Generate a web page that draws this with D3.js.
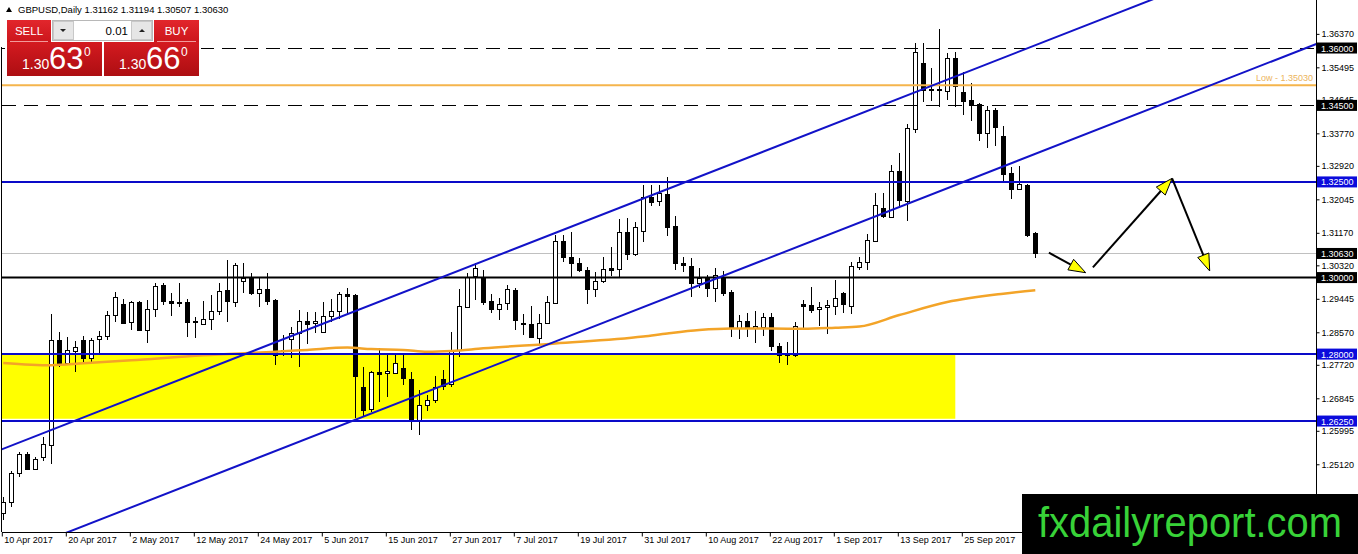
<!DOCTYPE html>
<html>
<head>
<meta charset="utf-8">
<script src="https://cdn.jsdelivr.net/npm/d3@7"></script>
<style>
  body { margin: 0; background: #fff; overflow: hidden; }
  svg { display: block; font-family: "Liberation Sans", Arial, sans-serif; }
</style>
</head>
<body>
<svg id="chart" width="1358" height="554"></svg>
<script>
// GBPUSD daily candles, 10 Apr 2017 - 6 Oct 2017
const opens = [
  1.2384, 1.2412, 1.2488, 1.2538, 1.2500, 1.2531, 1.2564, 1.2838, 1.2776, 1.2809,
  1.2836, 1.2791, 1.2838, 1.2847, 1.2901, 1.2931, 1.2883, 1.2937, 1.2864, 1.2919,
  1.2980, 1.2938, 1.2935, 1.2935, 1.2887, 1.2880, 1.2893, 1.2913, 1.2967, 1.2937,
  1.2991, 1.2999, 1.2959, 1.2970, 1.2941, 1.2809, 1.2838, 1.2856, 1.2887, 1.2880,
  1.2858, 1.2900, 1.2912, 1.2957, 1.2954, 1.2714, 1.2656, 1.2753, 1.2749, 1.2753,
  1.2763, 1.2734, 1.2627, 1.2668, 1.2680, 1.2736, 1.2721, 1.2810, 1.2924, 1.3002,
  1.3002, 1.2938, 1.2917, 1.2932, 1.2967, 1.2880, 1.2878, 1.2841, 1.2880, 1.2934,
  1.3095, 1.3053, 1.3037, 1.3019, 1.2969, 1.2991, 1.3024, 1.3021, 1.3118, 1.3061,
  1.3120, 1.3210, 1.3198, 1.3218, 1.3134, 1.3037, 1.3030, 1.2986, 1.2998, 1.2972,
  1.3002, 1.2961, 1.2869, 1.2887, 1.2869, 1.2869, 1.2896, 1.2821, 1.2802, 1.2797,
  1.2932, 1.2928, 1.2917, 1.2922, 1.2926, 1.2959, 1.2926, 1.3028, 1.3040, 1.3096,
  1.3181, 1.3159, 1.3278, 1.3202, 1.3388, 1.3560, 1.3492, 1.3492, 1.3490, 1.3575,
  1.3486, 1.3464, 1.3454, 1.3379, 1.3438, 1.3370, 1.3273, 1.3231, 1.3242, 1.31162
];
const highs = [
  1.2427, 1.2495, 1.2545, 1.2545, 1.2531, 1.2584, 1.2904, 1.2858, 1.2844, 1.2835,
  1.2847, 1.2841, 1.2861, 1.2913, 1.2963, 1.2945, 1.2939, 1.2939, 1.2941, 1.2985,
  1.2985, 1.2959, 1.2986, 1.2943, 1.2897, 1.2938, 1.2954, 1.2986, 1.3046, 1.3037,
  1.3039, 1.3011, 1.2998, 1.3011, 1.2943, 1.2850, 1.2870, 1.2915, 1.2910, 1.2910,
  1.2937, 1.2945, 1.2963, 1.2974, 1.2956, 1.2767, 1.2756, 1.2815, 1.2797, 1.2797,
  1.2802, 1.2754, 1.2706, 1.2693, 1.2742, 1.2758, 1.2858, 1.2970, 1.3012, 1.3037,
  1.3021, 1.2957, 1.2947, 1.2980, 1.2974, 1.2906, 1.2925, 1.2904, 1.2951, 1.3111,
  1.3111, 1.3120, 1.3050, 1.3027, 1.3015, 1.3054, 1.3079, 1.3152, 1.3155, 1.3146,
  1.3242, 1.3242, 1.3242, 1.3263, 1.3161, 1.3053, 1.3050, 1.3024, 1.3006, 1.3026,
  1.3018, 1.2967, 1.2902, 1.2908, 1.2912, 1.2908, 1.2908, 1.2830, 1.2832, 1.2884,
  1.2941, 1.2976, 1.2937, 1.2941, 1.2993, 1.2963, 1.3041, 1.3054, 1.3113, 1.3222,
  1.3220, 1.3294, 1.3325, 1.3401, 1.3612, 1.3614, 1.3547, 1.3651, 1.3586, 1.3589,
  1.3538, 1.3509, 1.3456, 1.3449, 1.3443, 1.3396, 1.3289, 1.3291, 1.3245, 1.31194
];
const lows = [
  1.2366, 1.2401, 1.2479, 1.2497, 1.2497, 1.2521, 1.2514, 1.2767, 1.2771, 1.2754,
  1.2780, 1.2780, 1.2802, 1.2838, 1.2884, 1.2878, 1.2863, 1.2860, 1.2828, 1.2897,
  1.2928, 1.2900, 1.2924, 1.2845, 1.2841, 1.2876, 1.2863, 1.2902, 1.2884, 1.2924,
  1.2959, 1.2954, 1.2924, 1.2928, 1.2771, 1.2795, 1.2791, 1.2767, 1.2826, 1.2854,
  1.2854, 1.2884, 1.2893, 1.2902, 1.2632, 1.2638, 1.2649, 1.2675, 1.2688, 1.2749,
  1.2719, 1.2601, 1.2588, 1.2652, 1.2673, 1.2706, 1.2714, 1.2793, 1.2922, 1.2941,
  1.2928, 1.2908, 1.2889, 1.2915, 1.2863, 1.2850, 1.2841, 1.2826, 1.2878, 1.2932,
  1.3041, 1.3000, 1.3015, 1.2931, 1.2950, 1.2985, 1.3004, 1.3002, 1.3046, 1.3056,
  1.3094, 1.3187, 1.3187, 1.3108, 1.3021, 1.3015, 1.2950, 1.2972, 1.2948, 1.2937,
  1.2951, 1.2844, 1.2839, 1.2845, 1.2829, 1.2847, 1.2808, 1.2777, 1.2771, 1.2793,
  1.2867, 1.2908, 1.2873, 1.2852, 1.2902, 1.2908, 1.2906, 1.3021, 1.3021, 1.3094,
  1.3157, 1.3157, 1.3181, 1.3148, 1.3377, 1.3459, 1.3461, 1.3446, 1.3464, 1.3445,
  1.3426, 1.3408, 1.3356, 1.3338, 1.3343, 1.3250, 1.3205, 1.3231, 1.3105, 1.30507
];
const closes = [
  1.2414, 1.2488, 1.2538, 1.2499, 1.2525, 1.2564, 1.2838, 1.2776, 1.2810, 1.2819,
  1.2790, 1.2838, 1.2847, 1.2901, 1.2948, 1.2882, 1.2935, 1.2863, 1.2919, 1.2978,
  1.2937, 1.2932, 1.2932, 1.2882, 1.2884, 1.2893, 1.2913, 1.2965, 1.2937, 1.3033,
  1.2998, 1.2959, 1.2970, 1.2939, 1.2797, 1.2810, 1.2854, 1.2887, 1.2880, 1.2886,
  1.2900, 1.2912, 1.2956, 1.2953, 1.2742, 1.2655, 1.2752, 1.2749, 1.2755, 1.2778,
  1.2736, 1.2627, 1.2668, 1.2680, 1.2714, 1.2719, 1.2810, 1.2925, 1.3002, 1.3024,
  1.2937, 1.2917, 1.2930, 1.2969, 1.2889, 1.2877, 1.2844, 1.2880, 1.2935, 1.3095,
  1.3053, 1.3037, 1.3018, 1.2969, 1.2991, 1.3023, 1.3020, 1.3118, 1.3061, 1.3131,
  1.3210, 1.3198, 1.3220, 1.3133, 1.3037, 1.3031, 1.2986, 1.2999, 1.2972, 1.3006,
  1.2960, 1.2869, 1.2887, 1.2869, 1.2873, 1.2896, 1.2819, 1.2797, 1.2797, 1.2874,
  1.2926, 1.2915, 1.2923, 1.2928, 1.2947, 1.2931, 1.3030, 1.3040, 1.3098, 1.3189,
  1.3159, 1.3278, 1.3202, 1.3392, 1.3590, 1.3490, 1.3489, 1.3489, 1.3575, 1.3503,
  1.3462, 1.3451, 1.3379, 1.3438, 1.3393, 1.3271, 1.3231, 1.3245, 1.3111, 1.30630
];

// trading days shown on the chart
const dates = d3.timeDay.range(new Date(2017, 3, 10), new Date(2017, 9, 7))
  .filter(d => d.getDay() % 6 !== 0);

// moving average (orange), read at a few bars
const maBars   = [0, 6, 10, 16, 25, 34, 38, 43, 46, 50, 53, 56, 60, 69, 80, 83, 87, 91, 96, 100, 104, 107, 112, 118, 125, 129];
const maValues = [1.2777, 1.2771, 1.2776, 1.2784, 1.2797, 1.2806, 1.2811, 1.2817, 1.2813, 1.2811, 1.2806, 1.2808, 1.2815,
                  1.2828, 1.2846, 1.2854, 1.2863, 1.2867, 1.2867, 1.2866, 1.2869, 1.2872, 1.2902, 1.2936, 1.2958, 1.2967];

const priceTicks = [1.36370, 1.35495, 1.34645, 1.33770, 1.32920, 1.32045, 1.31170, 1.30320,
                    1.29445, 1.28570, 1.27720, 1.26845, 1.25995, 1.25120, 1.24245];

const dashedLevels = [1.3600, 1.3450];
const blueLevels = [1.3250, 1.2800, 1.2625];
const supportLevel = 1.3000;
const lowLevel = 1.35030;
const bid = 1.30630, ask = 1.30660, lot = "0.01";

// yellow demand zone [bar from, bar to] x [price top, price bottom]
const zoneBars = [-1, 119];
const zonePrices = [1.2800, 1.2631];

// rising channel, two anchor points each [bar, price]
const channelUpper = [[0, 1.25527], [130, 1.36154]];
const channelLower = [[0, 1.22686], [130, 1.33316]];

// projected path arrows [bar, price] -> [bar, price]
const arrows = [
  [[130.7, 1.30650], [135.3, 1.30127]],
  [[136.2, 1.30267], [146.1, 1.32594]],
  [[146.1, 1.32594], [150.8, 1.30172]]
];

const svg = d3.select("#chart");
const W = 1358, plotR = 1316, plotB = 532;

const x = d3.scaleLinear().domain([0, 164]).range([3.3, 1315.3]);
const y = d3.scaleLinear().domain([1.2335, 1.37255]).range([plotB, 0]);
const px = i => Math.round(x(i)) + 0.5;
const py = v => Math.round(y(v)) + 0.5;

svg.append("defs").append("clipPath").attr("id", "plot")
  .append("rect").attr("x", 2).attr("y", 0).attr("width", plotR - 2).attr("height", plotB);

const plot = svg.append("g").attr("clip-path", "url(#plot)");

// zone
plot.append("rect")
  .attr("x", x(zoneBars[0])).attr("width", x(zoneBars[1]) - x(zoneBars[0]))
  .attr("y", y(zonePrices[0])).attr("height", y(zonePrices[1]) - y(zonePrices[0]))
  .attr("fill", "#ffff00");

// bid line
plot.append("line").attr("x1", 2).attr("x2", plotR).attr("y1", py(bid)).attr("y2", py(bid))
  .attr("stroke", "#c0c0c0").attr("stroke-width", 1);

// candles
const candles = d3.range(opens.length).map(i => ({i, o: opens[i], h: highs[i], l: lows[i], c: closes[i]}));
const cg = plot.append("g").attr("shape-rendering", "crispEdges");
cg.selectAll("line").data(candles).join("line")
  .attr("x1", d => px(d.i)).attr("x2", d => px(d.i))
  .attr("y1", d => y(d.h)).attr("y2", d => y(d.l))
  .attr("stroke", "#000").attr("stroke-width", 1);
cg.selectAll("rect").data(candles).join("rect")
  .attr("x", d => px(d.i) - 2)
  .attr("width", 4)
  .attr("y", d => Math.round(y(Math.max(d.o, d.c))) + 0.5)
  .attr("height", d => Math.max(1, Math.round(Math.abs(y(d.o) - y(d.c)))))
  .attr("fill", d => d.c >= d.o ? "#fff" : "#000")
  .attr("stroke", "#000").attr("stroke-width", 1);

// moving average
plot.append("path")
  .attr("d", d3.line().curve(d3.curveMonotoneX)
    .x((b, k) => x(b)).y((b, k) => y(maValues[k]))(maBars))
  .attr("fill", "none").attr("stroke", "#f3a428").attr("stroke-width", 2.5);

// horizontal levels
dashedLevels.forEach(v => plot.append("line")
  .attr("x1", 2).attr("x2", plotR).attr("y1", py(v)).attr("y2", py(v))
  .attr("stroke", "#000").attr("stroke-width", 1).attr("stroke-dasharray", "14,8"));
plot.append("line").attr("x1", 2).attr("x2", plotR).attr("y1", y(lowLevel)).attr("y2", y(lowLevel))
  .attr("stroke", "#f5b54c").attr("stroke-width", 2);
blueLevels.forEach(v => plot.append("line")
  .attr("x1", 2).attr("x2", plotR).attr("y1", y(v)).attr("y2", y(v))
  .attr("stroke", "#0a0ac8").attr("stroke-width", 2));
plot.append("line").attr("x1", 2).attr("x2", plotR).attr("y1", y(supportLevel)).attr("y2", y(supportLevel))
  .attr("stroke", "#000").attr("stroke-width", 2);

plot.append("text").attr("x", plotR - 3).attr("y", y(lowLevel) - 4)
  .attr("text-anchor", "end").attr("font-size", 9).attr("fill", "#ecb45c")
  .text("Low - " + d3.format(".5f")(lowLevel));

// channel
[channelUpper, channelLower].forEach(ch => {
  const f = d3.scaleLinear().domain([ch[0][0], ch[1][0]]).range([ch[0][1], ch[1][1]]);
  plot.append("line")
    .attr("x1", x(-2)).attr("y1", y(f(-2)))
    .attr("x2", x(166)).attr("y2", y(f(166)))
    .attr("stroke", "#1212c8").attr("stroke-width", 2);
});

// arrows
arrows.forEach(([a, b]) => {
  const x0 = x(a[0]), y0 = y(a[1]), x1 = x(b[0]), y1 = y(b[1]);
  const len = Math.hypot(x1 - x0, y1 - y0), ux = (x1 - x0) / len, uy = (y1 - y0) / len;
  const hl = 17, hw = 6;
  const bx = x1 - ux * hl, by = y1 - uy * hl;
  plot.append("line").attr("x1", x0).attr("y1", y0).attr("x2", bx).attr("y2", by)
    .attr("stroke", "#000").attr("stroke-width", 2);
  plot.append("polygon")
    .attr("points", [[x1, y1], [bx - uy * hw, by + ux * hw], [bx + uy * hw, by - ux * hw]].map(p => p.join(",")).join(" "))
    .attr("fill", "#ffff00").attr("stroke", "#000").attr("stroke-width", 1);
});

// frame
svg.append("line").attr("x1", 1.5).attr("x2", 1.5).attr("y1", 47).attr("y2", plotB).attr("stroke", "#000");
svg.append("line").attr("x1", 2).attr("x2", plotR).attr("y1", plotB + 0.5).attr("y2", plotB + 0.5).attr("stroke", "#000");

// price axis
const yAxis = svg.append("g").attr("transform", `translate(${plotR + 0.5},0)`)
  .call(d3.axisRight(y).tickValues(priceTicks).tickSize(3).tickSizeOuter(0).tickPadding(2)
    .tickFormat(d3.format(".5f")));
yAxis.select(".domain").attr("d", `M0,0V${plotB}`).attr("stroke", "#000");
yAxis.selectAll("text").attr("font-size", 9).attr("font-family", "Liberation Sans, Arial, sans-serif").attr("fill", "#000");

// level boxes
const boxes = [
  {v: 1.3600, fill: "#000"}, {v: 1.3450, fill: "#000"}, {v: 1.3250, fill: "#0b0bdc"},
  {v: bid, fill: "#000"}, {v: supportLevel, fill: "#000"}, {v: 1.2800, fill: "#0b0bdc"}, {v: 1.2625, fill: "#0b0bdc"}
];
const bx = svg.append("g").selectAll("g").data(boxes).join("g");
bx.append("rect").attr("x", plotR + 1).attr("width", W - plotR - 2)
  .attr("y", d => y(d.v) - 5.5).attr("height", 11).attr("fill", d => d.fill);
bx.append("text").attr("x", plotR + 5).attr("y", d => y(d.v) + 3.5)
  .attr("font-size", 9).attr("fill", "#fff").text(d => d3.format(".5f")(d.v));

// time axis
const fmtDate = d3.timeFormat("%-d %b %Y");
const xAxis = svg.append("g").attr("transform", `translate(-1.5,${plotB + 0.5})`)
  .call(d3.axisBottom(x).tickValues(d3.range(0, 121, 8)).tickSize(4).tickSizeOuter(0)
    .tickFormat(i => fmtDate(dates[i])));
xAxis.select(".domain").remove();
xAxis.selectAll("text").attr("text-anchor", "start").attr("dx", 2).attr("dy", "0.35em")
  .attr("font-size", 9).attr("font-family", "Liberation Sans, Arial, sans-serif").attr("fill", "#000");

// header
const head = svg.append("g");
head.append("rect").attr("x", 0).attr("y", 0).attr("width", 232).attr("height", 17).attr("fill", "#fff");
head.append("path").attr("d", "M6,12 L9,7 L12,12 Z").attr("fill", "#000");
const f5 = d3.format(".5f"), last = opens.length - 1;
head.append("text").attr("x", 18).attr("y", 13).attr("font-size", 9.5).attr("fill", "#000")
  .text(`GBPUSD,Daily  ${f5(opens[last])} ${f5(highs[last])} ${f5(lows[last])} ${f5(closes[last])}`);

// one-click trading panel
const defs = svg.select("defs");
const g1 = defs.append("linearGradient").attr("id", "btn").attr("x1", 0).attr("y1", 0).attr("x2", 0).attr("y2", 1);
g1.append("stop").attr("offset", 0).attr("stop-color", "#e2262c");
g1.append("stop").attr("offset", 1).attr("stop-color", "#cc161c");
const g2 = defs.append("linearGradient").attr("id", "prc").attr("x1", 0).attr("y1", 0).attr("x2", 0).attr("y2", 1);
g2.append("stop").attr("offset", 0).attr("stop-color", "#d41a20");
g2.append("stop").attr("offset", 1).attr("stop-color", "#ad0e12");

const pnl = svg.append("g");
pnl.append("rect").attr("x", 5).attr("y", 18).attr("width", 196).attr("height", 60).attr("fill", "#fff");
[[7, 44, "SELL"], [154, 45, "BUY"]].forEach(([bx0, w, t]) => {
  pnl.append("rect").attr("x", bx0).attr("y", 20).attr("width", w).attr("height", 22).attr("fill", "url(#btn)");
  pnl.append("line").attr("x1", bx0 + 3).attr("x2", bx0 + w - 3).attr("y1", 41.5).attr("y2", 41.5)
    .attr("stroke", "#f29a9a");
  pnl.append("text").attr("x", bx0 + w / 2).attr("y", 35).attr("text-anchor", "middle")
    .attr("font-size", 11.5).attr("fill", "#fff").text(t);
});
pnl.append("rect").attr("x", 52.5).attr("y", 20.5).attr("width", 100).attr("height", 20)
  .attr("fill", "#fff").attr("stroke", "#b8b8b8");
[[53.5, "M60,29 L66,29 L63,32 Z"], [131.5, "M139,32 L145,32 L142,29 Z"]].forEach(([bx0, tri]) => {
  pnl.append("rect").attr("x", bx0).attr("y", 21.5).attr("width", 20).attr("height", 18)
    .attr("fill", "#e6e6e6").attr("stroke", "#c8c8c8");
  pnl.append("path").attr("d", tri).attr("fill", "#222");
});
pnl.append("text").attr("x", 128).attr("y", 34.5).attr("text-anchor", "end")
  .attr("font-size", 11.5).attr("fill", "#000").text(lot);

[[7, bid], [104, ask]].forEach(([bx0, p]) => {
  const s = d3.format(".5f")(p);
  pnl.append("rect").attr("x", bx0).attr("y", 42).attr("width", 95).attr("height", 34).attr("fill", "url(#prc)");
  pnl.append("text").attr("x", bx0 + 15).attr("y", 69).attr("font-size", 14).attr("fill", "#fff").text(s.slice(0, 4));
  pnl.append("text").attr("x", bx0 + 42).attr("y", 69).attr("font-size", 31).attr("fill", "#fff").text(s.slice(4, 6));
  pnl.append("text").attr("x", bx0 + 77).attr("y", 56).attr("font-size", 12).attr("fill", "#fff").text(s.slice(6));
});

// watermark
svg.append("rect").attr("x", 1022).attr("y", 494).attr("width", W - 1022).attr("height", 60).attr("fill", "#000");
svg.append("text").attr("x", 1038).attr("y", 537).attr("font-size", 42)
  .attr("textLength", 304).attr("lengthAdjust", "spacingAndGlyphs")
  .attr("fill", "#38d238").text("fxdailyreport.com");
</script>
</body>
</html>
